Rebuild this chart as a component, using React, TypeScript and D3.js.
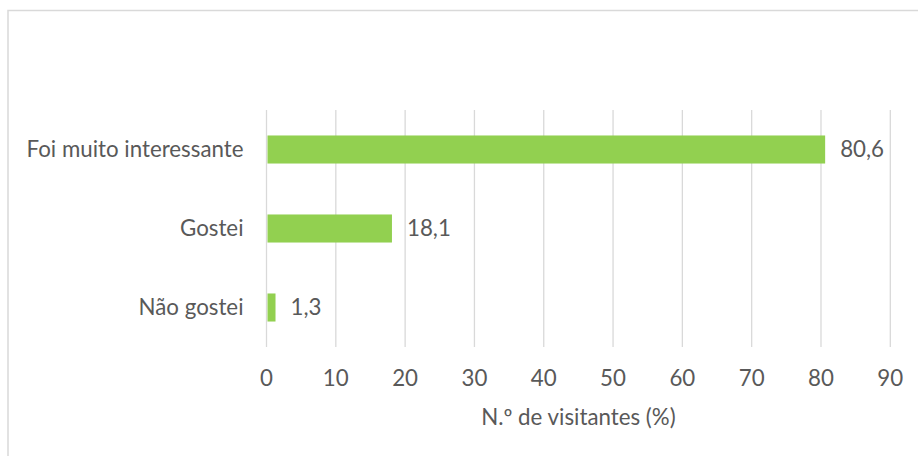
import React from 'react';
import * as d3 from 'd3';

const categories = ['Foi muito interessante', 'Gostei', 'Não gostei'];
const values = [80.6, 18.1, 1.3];
const ticks = [0, 10, 20, 30, 40, 50, 60, 70, 80, 90];
const axisTitle = 'N.º de visitantes (%)';

const W = 918;
const H = 456;
const font = 'Lato, "Open Sans", sans-serif';
const textColor = '#595959';
const gridColor = '#d9d9d9';
const barColor = '#92d050';
const fs = 22.3;

export default function App() {
  const left = 266.5;
  const right = 890.3;
  const top = 110;
  const bottom = 347;

  const x = d3.scaleLinear().domain([0, 90]).range([left, right]);
  const y = d3
    .scaleBand()
    .domain(categories)
    .range([top, bottom])
    .paddingInner(0.645)
    .paddingOuter(0.3225);

  const fmt = (v: number) => v.toFixed(1).replace('.', ',');

  return (
    <svg
      width={W}
      height={H}
      style={{ position: 'absolute', left: 0, top: 0, background: '#fff' }}
      fontFamily={font}
    >
      <rect x={8} y={10.5} width={W + 20} height={H + 20} fill="#fff" stroke={gridColor} strokeWidth={1.5} />

      {/* grid */}
      {ticks.map(t => (
        <line key={t} x1={x(t)} x2={x(t)} y1={top} y2={bottom} stroke={gridColor} strokeWidth={1.3} />
      ))}

      {/* bars */}
      {categories.map((c, i) => (
        <rect
          key={c}
          x={x(0) + 1}
          y={y(c)}
          width={x(values[i]) - x(0) - 1}
          height={y.bandwidth()}
          fill={barColor}
        />
      ))}

      {/* value labels */}
      {categories.map((c, i) => (
        <text
          key={c}
          x={x(values[i]) + 15}
          y={(y(c) as number) + y.bandwidth() / 2}
          dy="0.33em"
          fontSize={fs}
          fill={textColor}
        >
          {fmt(values[i])}
        </text>
      ))}

      {/* category labels */}
      {categories.map(c => (
        <text
          key={c}
          x={left - 23}
          y={(y(c) as number) + y.bandwidth() / 2}
          dy="0.33em"
          textAnchor="end"
          fontSize={fs}
          fill={textColor}
        >
          {c}
        </text>
      ))}

      {/* tick labels */}
      {ticks.map(t => (
        <text key={t} x={x(t)} y={385.5} textAnchor="middle" fontSize={fs} fill={textColor}>
          {t}
        </text>
      ))}

      <text x={(left + right) / 2} y={425} textAnchor="middle" fontSize={fs} fill={textColor}>
        {axisTitle}
      </text>
    </svg>
  );
}
